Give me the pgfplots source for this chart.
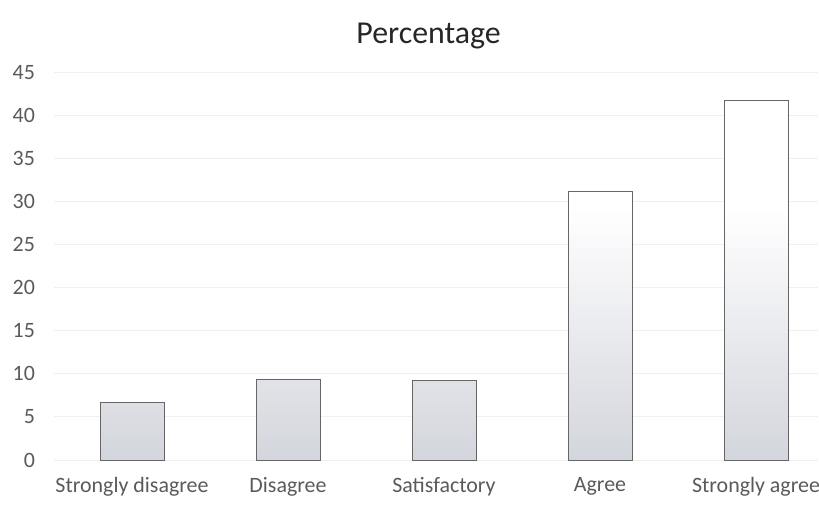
\documentclass[border=0pt]{standalone}
\usepackage{pgfplots}
\pgfplotsset{compat=1.18}
\usepackage{fontspec}
\setmainfont{Carlito}

\definecolor{tickgray}{RGB}{90,90,90}
\definecolor{barbottom}{RGB}{200,203,212}
\pgfdeclareverticalshading{barshade}{100bp}{%
  color(0bp)=(barbottom); color(25bp)=(barbottom!80!white);
  color(60bp)=(white); color(100bp)=(white)}

\begin{document}
\begin{tikzpicture}
\begin{axis}[
    x=78bp, y=4.31bp,
    xmin=-0.5, xmax=4.4,
    ymin=0, ymax=45,
    ytick={0,5,...,45},
    xtick=data,
    xticklabels={Strongly disagree, Disagree, Satisfactory, Agree, Strongly agree},
    axis line style={draw=none},
    major tick length=0pt,
    ymajorgrids,
    grid style={black!6, line width=0.5bp},
    tick label style={font=\fontsize{11}{13}\selectfont, text=tickgray},
    /pgf/number format/assume math mode=true,
    yticklabel style={xshift=-6bp},
    xticklabel style={yshift=-5bp},
    title={Percentage},
    title style={font=\fontsize{16}{19}\selectfont, text=black!85,
                 at={(0.49,1)}, anchor=center, yshift=12bp},
    clip=false,
]
\addplot[ybar, bar width=32bp, draw=black!60, line width=0.5bp,
         shading=barshade]
    coordinates {(0,6.7) (1,9.3) (2,9.2) (3,31.1) (4,41.7)};
\end{axis}
\pgfresetboundingbox
\path (current axis.south west) ++(-27bp,-24bp) rectangle ++(409.5bp,254bp);
\end{tikzpicture}
\end{document}
